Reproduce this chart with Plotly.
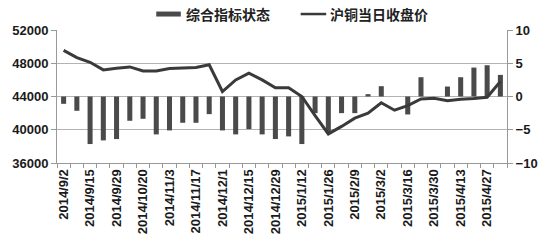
import plotly.graph_objects as go

dates = ["2014/9/2", "2014/9/9", "2014/9/15", "2014/9/22", "2014/9/29", "2014/10/13",
         "2014/10/20", "2014/10/27", "2014/11/3", "2014/11/10", "2014/11/17", "2014/11/24",
         "2014/12/1", "2014/12/8", "2014/12/15", "2014/12/22", "2014/12/29", "2015/1/5",
         "2015/1/12", "2015/1/19", "2015/1/26", "2015/2/2", "2015/2/9", "2015/2/16",
         "2015/3/2", "2015/3/9", "2015/3/16", "2015/3/23", "2015/3/30", "2015/4/7",
         "2015/4/13", "2015/4/20", "2015/4/27", "2015/5/4"]

indicator = [-1.1, -2.15, -7.15, -6.6, -6.4, -3.65, -3.35, -5.7, -5.1, -3.95, -3.95, -2.65,
             -5.1, -5.7, -4.9, -5.7, -6.4, -6.0, -7.15, -2.5, -5.5, -2.5, -2.5, 0.35,
             1.55, 0, -2.7, 2.9, 0, 1.5, 2.9, 4.35, 4.7, 3.25]

close_price = [49550, 48680, 48120, 47200, 47400, 47560, 47080, 47080, 47360, 47400, 47480, 47820,
               44600, 46000, 46800, 46000, 45050, 45050, 44000, 41700, 39500, 40400, 41400, 42000,
               43250, 42350, 42900, 43700, 43800, 43500, 43680, 43760, 43900, 45800]

left_ticks = [36000, 40000, 44000, 48000, 52000]
left_ticktext = ["36000", "40000", "44000", "48000", "52000"]
right_ticks = [-10, -5, 0, 5, 10]

series_names = ["综合指标状态", "沪铜当日收盘价"]

tick_text = [d if i % 2 == 0 else "" for i, d in enumerate(dates)]

font_family = "Liberation Sans, Arial, sans-serif"
cjk_font = "Noto Sans CJK SC, sans-serif"
bar_color = "#4a4a4a"
line_color = "#3a3a3a"

# plot area in page pixels (used to place legend in paper coords)
L, R, T, B = 54, 512, 30, 163.3
W, H = R - L, B - T


def px(xp):
    return (xp - L) / W


def py(yp):
    return (B - yp) / H


fig = go.Figure()
fig.add_trace(go.Bar(
    x=dates, y=indicator, name=series_names[0], yaxis="y",
    marker=dict(color=bar_color, line=dict(width=0)), showlegend=False,
))
fig.add_trace(go.Scatter(
    x=dates, y=close_price, name=series_names[1], yaxis="y2", mode="lines",
    line=dict(color=line_color, width=3), showlegend=False,
))

# legend drawn manually to match the reference's wide bar key
fig.add_shape(type="rect", xref="paper", yref="paper",
              x0=px(155), x1=px(180), y0=py(16.5), y1=py(11.5),
              fillcolor=bar_color, line=dict(width=0))
fig.add_shape(type="line", xref="paper", yref="paper",
              x0=px(302), x1=px(328), y0=py(14), y1=py(14),
              line=dict(color=line_color, width=2.5))
fig.add_annotation(xref="paper", yref="paper", x=px(183), y=py(14), text=series_names[0],
                   showarrow=False, xanchor="left", yanchor="middle",
                   font=dict(family=cjk_font, size=14, color="#222", weight="bold"))
fig.add_annotation(xref="paper", yref="paper", x=px(330), y=py(14), text=series_names[1],
                   showarrow=False, xanchor="left", yanchor="middle",
                   font=dict(family=cjk_font, size=14, color="#222", weight="bold"))

fig.update_layout(
    width=550, height=248,
    margin=dict(l=L, r=550 - R, t=T, b=248 - B),
    paper_bgcolor="white", plot_bgcolor="white",
    bargap=0.62,
    showlegend=False,
    xaxis=dict(type="category", tickmode="array", tickvals=dates, ticktext=tick_text,
               tickangle=-90, tickson="boundaries", ticks="outside", ticklen=4,
               tickcolor="#999", showline=True, linecolor="#999", linewidth=1,
               showgrid=False,
               tickfont=dict(family=font_family, size=13, color="#1a1a1a", weight="bold")),
    yaxis=dict(side="right", range=[-10, 10], tickmode="array", tickvals=right_ticks,
               showgrid=True, gridcolor="#b3b3b3", gridwidth=1, zeroline=False,
               showline=True, linecolor="#999", ticks="outside", ticklen=5, tickcolor="#999",
               tickfont=dict(family=font_family, size=13, color="#1a1a1a", weight="bold")),
    yaxis2=dict(side="left", overlaying="y", range=[36000, 52000], tickmode="array",
                tickvals=left_ticks, ticktext=left_ticktext,
                showgrid=False, zeroline=False, showline=True, linecolor="#999",
                ticks="outside", ticklen=5, tickcolor="#999",
                tickfont=dict(family=font_family, size=13, color="#1a1a1a", weight="bold")),
)

fig.write_html("out.html")
